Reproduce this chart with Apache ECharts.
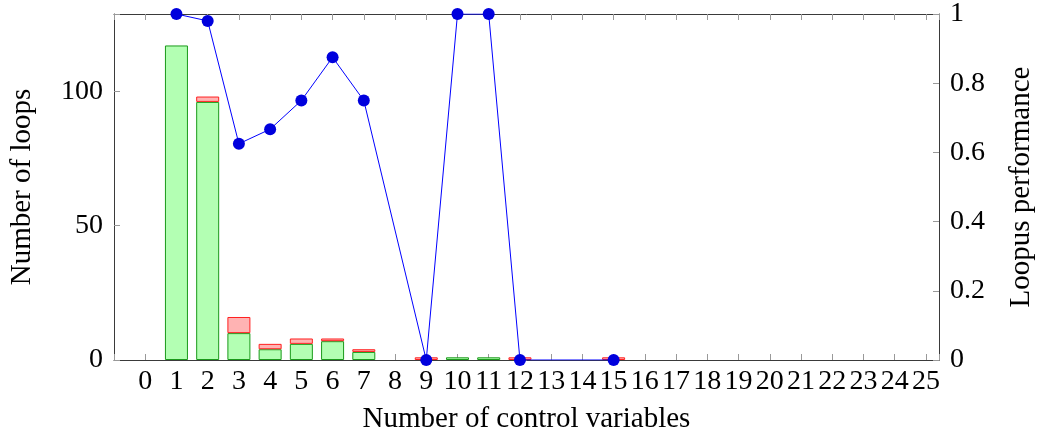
<!DOCTYPE html>
<html>
<head>
<meta charset="utf-8">
<script src="https://cdn.jsdelivr.net/npm/echarts@6/dist/echarts.min.js"></script>
<style>html,body{margin:0;padding:0;background:#fff;}#c{width:1044px;height:439px;}</style>
</head>
<body>
<div id="c"></div>
<script>
// Data
const categories = ['0','1','2','3','4','5','6','7','8','9','10','11','12','13','14','15','16','17','18','19','20','21','22','23','24','25'];
const okLoops =    [null,117,96,10,4,6,7,3,null,null,1,1,null,null,null,null,null,null,null,null,null,null,null,null,null,null];
const failLoops =  [null,null,2,6,2,2,1,1,null,1,null,null,1,null,null,1,null,null,null,null,null,null,null,null,null,null];
const performance = [null,1,0.98,0.625,0.667,0.75,0.875,0.75,null,0,1,1,0,null,null,0,null,null,null,null,null,null,null,null,null,null];
const leftTicks = [0, 50, 100];
const rightTicks = [0, 0.2, 0.4, 0.6, 0.8, 1];

const FONT = 'Liberation Serif';
// value first, category position second (so ECharts stacks the value dimension)
const pairsYX = arr => categories.map((c, i) => [arr[i], Number(c)]);
const pairs = arr => categories.map((c, i) => [Number(c), arr[i]]);

const xLabel = v => {
  const idx = categories.indexOf(String(v));
  return idx >= 0 ? categories[idx] : '';
};

const axisLineStyle = { color: '#3a3a3a', width: 1 };
const tickStyle = { color: '#999', width: 1 };

const chart = echarts.init(document.getElementById('c'), null, { renderer: 'canvas' });
chart.setOption({
  animation: false,
  grid: { left: 111, right: 100, top: 14, bottom: 79, containLabel: false },
  xAxis: [
    {
      type: 'value', position: 'bottom', min: -1, max: 25.42, interval: 1,
      splitLine: { show: false },
      axisLine: { show: true, onZero: false, lineStyle: axisLineStyle },
      axisTick: { show: true, inside: true, length: 6, lineStyle: tickStyle },
      axisLabel: { formatter: xLabel, color: '#000', fontFamily: FONT, fontSize: 28, margin: 8, showMinLabel: true, showMaxLabel: true },
      name: 'Number of control variables', nameLocation: 'middle', nameGap: 45,
      nameTextStyle: { color: '#000', fontFamily: FONT, fontSize: 29 }
    },
    {
      type: 'value', position: 'top', min: -1, max: 25.42, interval: 1,
      splitLine: { show: false },
      axisLine: { show: true, onZero: false, lineStyle: axisLineStyle },
      axisTick: { show: true, inside: true, length: 6, lineStyle: tickStyle },
      axisLabel: { show: false }
    }
  ],
  yAxis: [
    {
      type: 'value', position: 'left', min: 0, max: 128.7, interval: 50,
      splitLine: { show: false },
      axisLine: { show: true, onZero: false, lineStyle: axisLineStyle },
      axisTick: { show: true, inside: true, length: 6, lineStyle: tickStyle },
      axisLabel: { color: '#000', fontFamily: FONT, fontSize: 28, margin: 11,
        formatter: v => leftTicks.includes(v) ? String(v) : '' },
      name: 'Number of loops', nameLocation: 'middle', nameGap: 77, nameRotate: 90,
      nameTextStyle: { color: '#000', fontFamily: FONT, fontSize: 29 }
    },
    {
      type: 'value', position: 'right', min: 0, max: 1, interval: 0.2,
      splitLine: { show: false },
      axisLine: { show: true, onZero: false, lineStyle: axisLineStyle },
      axisTick: { show: true, inside: true, length: 6, lineStyle: tickStyle },
      axisLabel: { color: '#000', fontFamily: FONT, fontSize: 28, margin: 11,
        formatter: v => { const t = rightTicks.find(r => Math.abs(r - v) < 1e-9); return t === undefined ? '' : String(t); } },
      name: 'Loopus performance', nameLocation: 'middle', nameGap: 68, nameRotate: 90,
      nameTextStyle: { color: '#000', fontFamily: FONT, fontSize: 29 }
    }
  ],
  series: [
    {
      type: 'bar', name: 'ok', stack: 'loops', xAxisIndex: 0, yAxisIndex: 0,
      encode: { x: 1, y: 0 },
      barWidth: 23, data: pairsYX(okLoops),
      itemStyle: { color: '#b3ffb3', borderColor: '#1a9a1a', borderWidth: 1 }
    },
    {
      type: 'bar', name: 'fail', stack: 'loops', xAxisIndex: 0, yAxisIndex: 0,
      encode: { x: 1, y: 0 },
      barWidth: 23, data: pairsYX(failLoops),
      itemStyle: { color: '#ffb3b3', borderColor: '#ff2020', borderWidth: 1 }
    },
    {
      type: 'line', name: 'perf', xAxisIndex: 0, yAxisIndex: 1,
      data: pairs(performance), connectNulls: true,
      symbol: 'circle', symbolSize: 12, showSymbol: true,
      lineStyle: { color: '#0000ff', width: 1 },
      itemStyle: { color: '#0000dd', borderColor: '#0000dd', borderWidth: 0 },
      z: 5
    }
  ]
});
</script>
</body>
</html>
